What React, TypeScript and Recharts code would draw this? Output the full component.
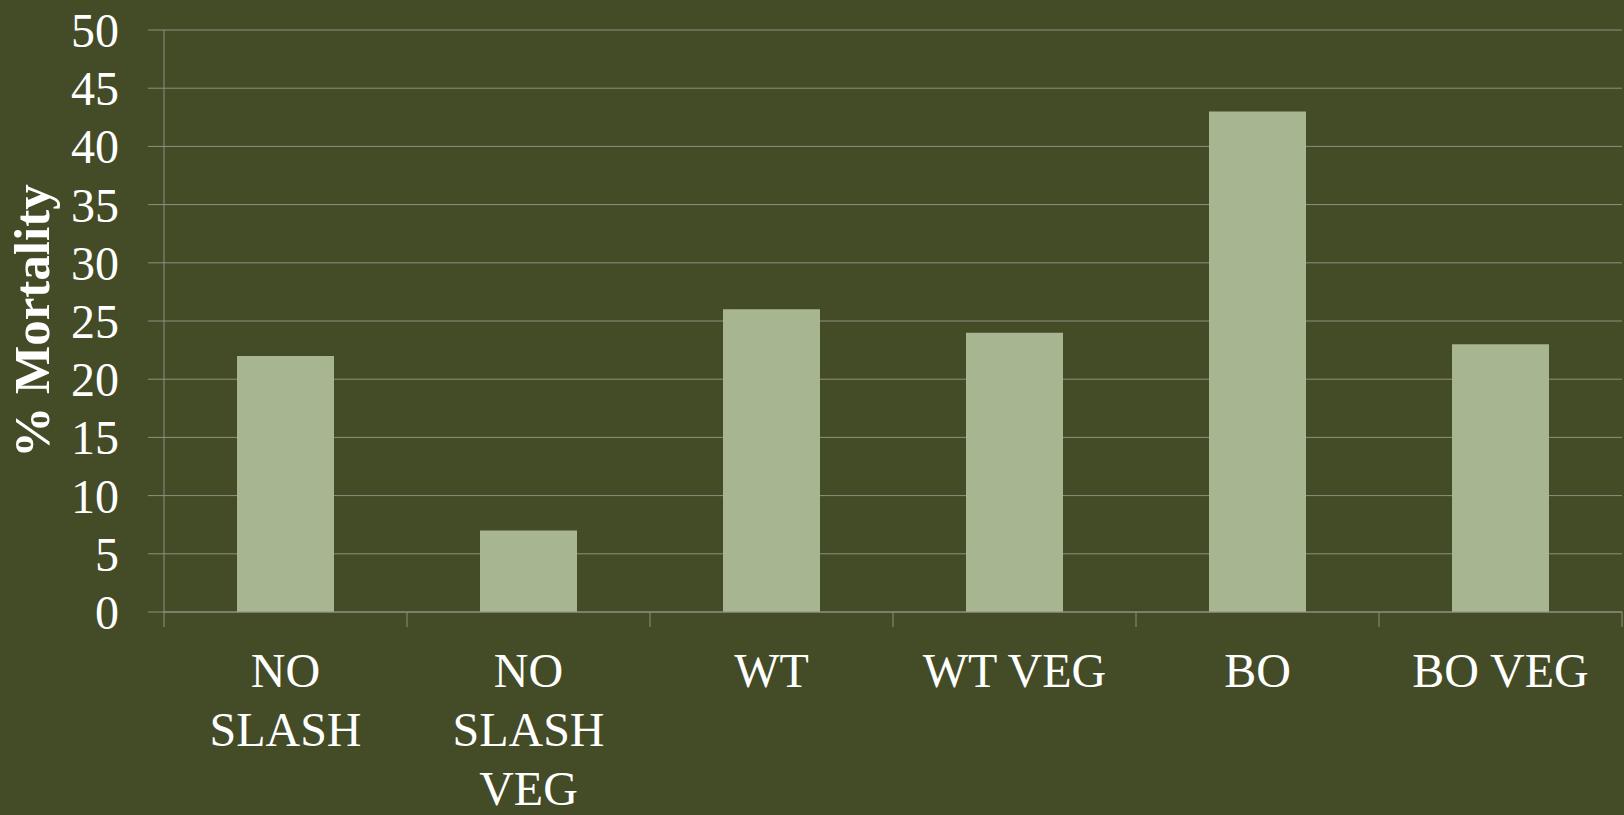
import { BarChart, Bar, XAxis, YAxis, CartesianGrid } from 'recharts'

const categories = ['NO\nSLASH', 'NO\nSLASH\nVEG', 'WT', 'WT VEG', 'BO', 'BO VEG']
const mortality = [22, 7, 26, 24, 43, 23]
const yTicks = [0, 5, 10, 15, 20, 25, 30, 35, 40, 45, 50]

const data = categories.map((name, i) => ({ name, value: mortality[i] }))

const BG = '#444B27'
const BAR = '#A7B590'
const GRID = '#8E9180'
const FONT = '"Liberation Serif", "Times New Roman", serif'

const CategoryTick = ({ x, y, payload, index }: any) => {
  const half = payload?.offset ?? 121.5
  const lines = String(payload.value).split('\n')
  return (
    <g>
      <line x1={x - half} y1={y} x2={x - half} y2={y + 15} stroke={GRID} strokeWidth={1} />
      {index === categories.length - 1 && (
        <line x1={x + half} y1={y} x2={x + half} y2={y + 15} stroke={GRID} strokeWidth={1} />
      )}
      <text x={x} y={y + 75} textAnchor="middle" fill="#FFFFFF" fontFamily={FONT} fontSize={48}>
        {lines.map((l, i) => (
          <tspan key={i} x={x} dy={i === 0 ? 0 : 59}>{l}</tspan>
        ))}
      </text>
    </g>
  )
}

const AxisTitle = () => (
  <text
    x={49}
    y={321}
    transform="rotate(-90, 49, 321)"
    textAnchor="middle"
    fill="#FFFFFF"
    fontFamily={FONT}
    fontSize={51}
    fontWeight="bold"
  >
    % Mortality
  </text>
)

export default function App() {
  return (
    <div style={{ position: 'absolute', left: 0, top: 0, width: 1624, height: 815, background: BG }}>
      <BarChart width={1624} height={815} data={data} margin={{ top: 30, right: 2, left: 0, bottom: 0 }}>
        <CartesianGrid vertical={false} stroke={GRID} strokeWidth={1} />
        <XAxis
          dataKey="name"
          interval={0}
          height={203}
          tickLine={false}
          tickSize={0}
          tickMargin={0}
          axisLine={{ stroke: GRID }}
          tick={<CategoryTick />}
        />
        <YAxis
          width={164}
          domain={[0, 50]}
          ticks={yTicks}
          interval={0}
          tickSize={16}
          tickMargin={29}
          axisLine={{ stroke: GRID }}
          tickLine={{ stroke: GRID }}
          tick={{ fill: '#FFFFFF', fontFamily: FONT, fontSize: 48 }}
          label={<AxisTitle />}
        />
        <Bar dataKey="value" fill={BAR} barSize={97} isAnimationActive={false} />
      </BarChart>
    </div>
  )
}
